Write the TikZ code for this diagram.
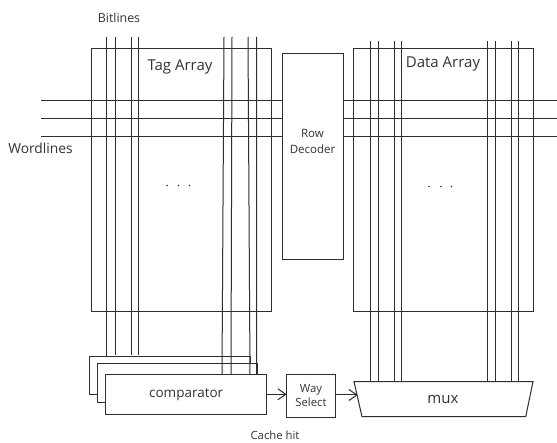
\documentclass[tikz,border=0pt]{standalone}
\usepackage{fontspec}
\setmainfont{Open Sans}
\usetikzlibrary{arrows.meta}
\definecolor{ln}{HTML}{2E2E2E}
\definecolor{tx}{HTML}{333333}
\tikzset{
  wire/.style={draw=ln,line width=1pt},
  box/.style={draw=ln,line width=1pt,fill=white,rectangle,inner sep=0pt,outer sep=0pt,anchor=north west},
  outline/.style={box,fill=none},
  lab/.style={text=tx,inner sep=0pt,align=center,font=\fontsize{#1}{#1}\selectfont},
  flow/.style={wire,-{Straight Barb[length=8pt,width=11pt]}}
}
\begin{document}
\begin{tikzpicture}[x=1pt,y=-1pt]
\useasboundingbox (0,0) rectangle (557,443);
\fill[white] (0,0) rectangle (557,443);
% arrays
\node[outline,minimum width=180pt,minimum height=263pt] (tag) at (91,49) {};
\node[outline,minimum width=180.5pt,minimum height=263pt] (data) at (353,49) {};
% wordlines
\node[box,minimum width=61pt,minimum height=206pt] (rd) at (282,53.5) {};
\foreach \n/\y in {a/101,b/119,c/136.5}{
  \coordinate (wl\n) at (41,\y);
  \coordinate (wr\n) at (557,\y);
  \draw[wire] (wl\n) -- (rd.west |- wl\n);
  \draw[wire] (rd.east |- wr\n) -- (wr\n);
}
% comparators
\node[box,minimum width=161pt,minimum height=38pt] (cmpc) at (89,357) {};
\node[box,minimum width=160pt,minimum height=39pt] (cmpb) at (97.5,364) {};
% tag bitlines
\foreach \x/\e in {106.5/357,115/355,131/355,138.5/355}{
  \draw[wire] (\x,37) -- (\x,\e);
}
\foreach \x/\z in {224/222,232/231,248/250,256.5/256.7}{
  \draw[wire] (\x,37) -- (\z,375);
}
\node[box,minimum width=161pt,minimum height=39.5pt] (cmpa) at (105.7,374.7) {};
% mux, way select
\node[box,minimum width=48.5pt,minimum height=42.5pt] (way) at (286.7,374.7) {};
\path[draw=ln,line width=1pt,fill=white] (354,381.7) coordinate (mtl) -- (533,381.7) coordinate (mtr) -- (525.7,416.7) coordinate (mbr) -- (362,416.7) coordinate (mbl) -- cycle;
\coordinate (mw) at (357.8,395);
\coordinate (ya) at (0,394.3);
\coordinate (yr) at (0,141);
% data bitlines
\foreach \x in {370,378.5,394,401.5,487,495,511,518.5}{
  \draw[wire] (\x,41) -- (\x,381.7);
}
\draw[flow] (cmpa.east |- ya) -- (way.west |- ya);
\draw[flow] (way.east |- mw) -- (mw);
% labels
\node[lab=12.4] (bl) at (119,18) {Bitlines};
\node[lab=15] (tt) at (180,67) {Tag Array};
\node[lab=13.8] (wt) at (40.5,148) {Wordlines};
\node[lab=11.5,text width=61pt] (rt) at (rd.center |- yr) {Row\\[4.5pt]Decoder};
\node[lab=15] (dt) at (443,63.5) {Data Array};
\node[lab=13.5] (ct) at (cmpa.center) {comparator};
\node[lab=11.3,text width=48pt] (wyt) at (way.center) {Way\\[2.7pt]Select};
\node[lab=15] (mt) at (443,399) {mux};
\node[lab=11.3] (ch) at (275,435) {Cache hit};
\foreach \x in {167,178.5,189.5}{\fill[tx] (\x,185.5) circle (0.9pt);}
\foreach \x in {429,441,451.5}{\fill[tx] (\x,186.5) circle (0.9pt);}
\end{tikzpicture}
\end{document}
